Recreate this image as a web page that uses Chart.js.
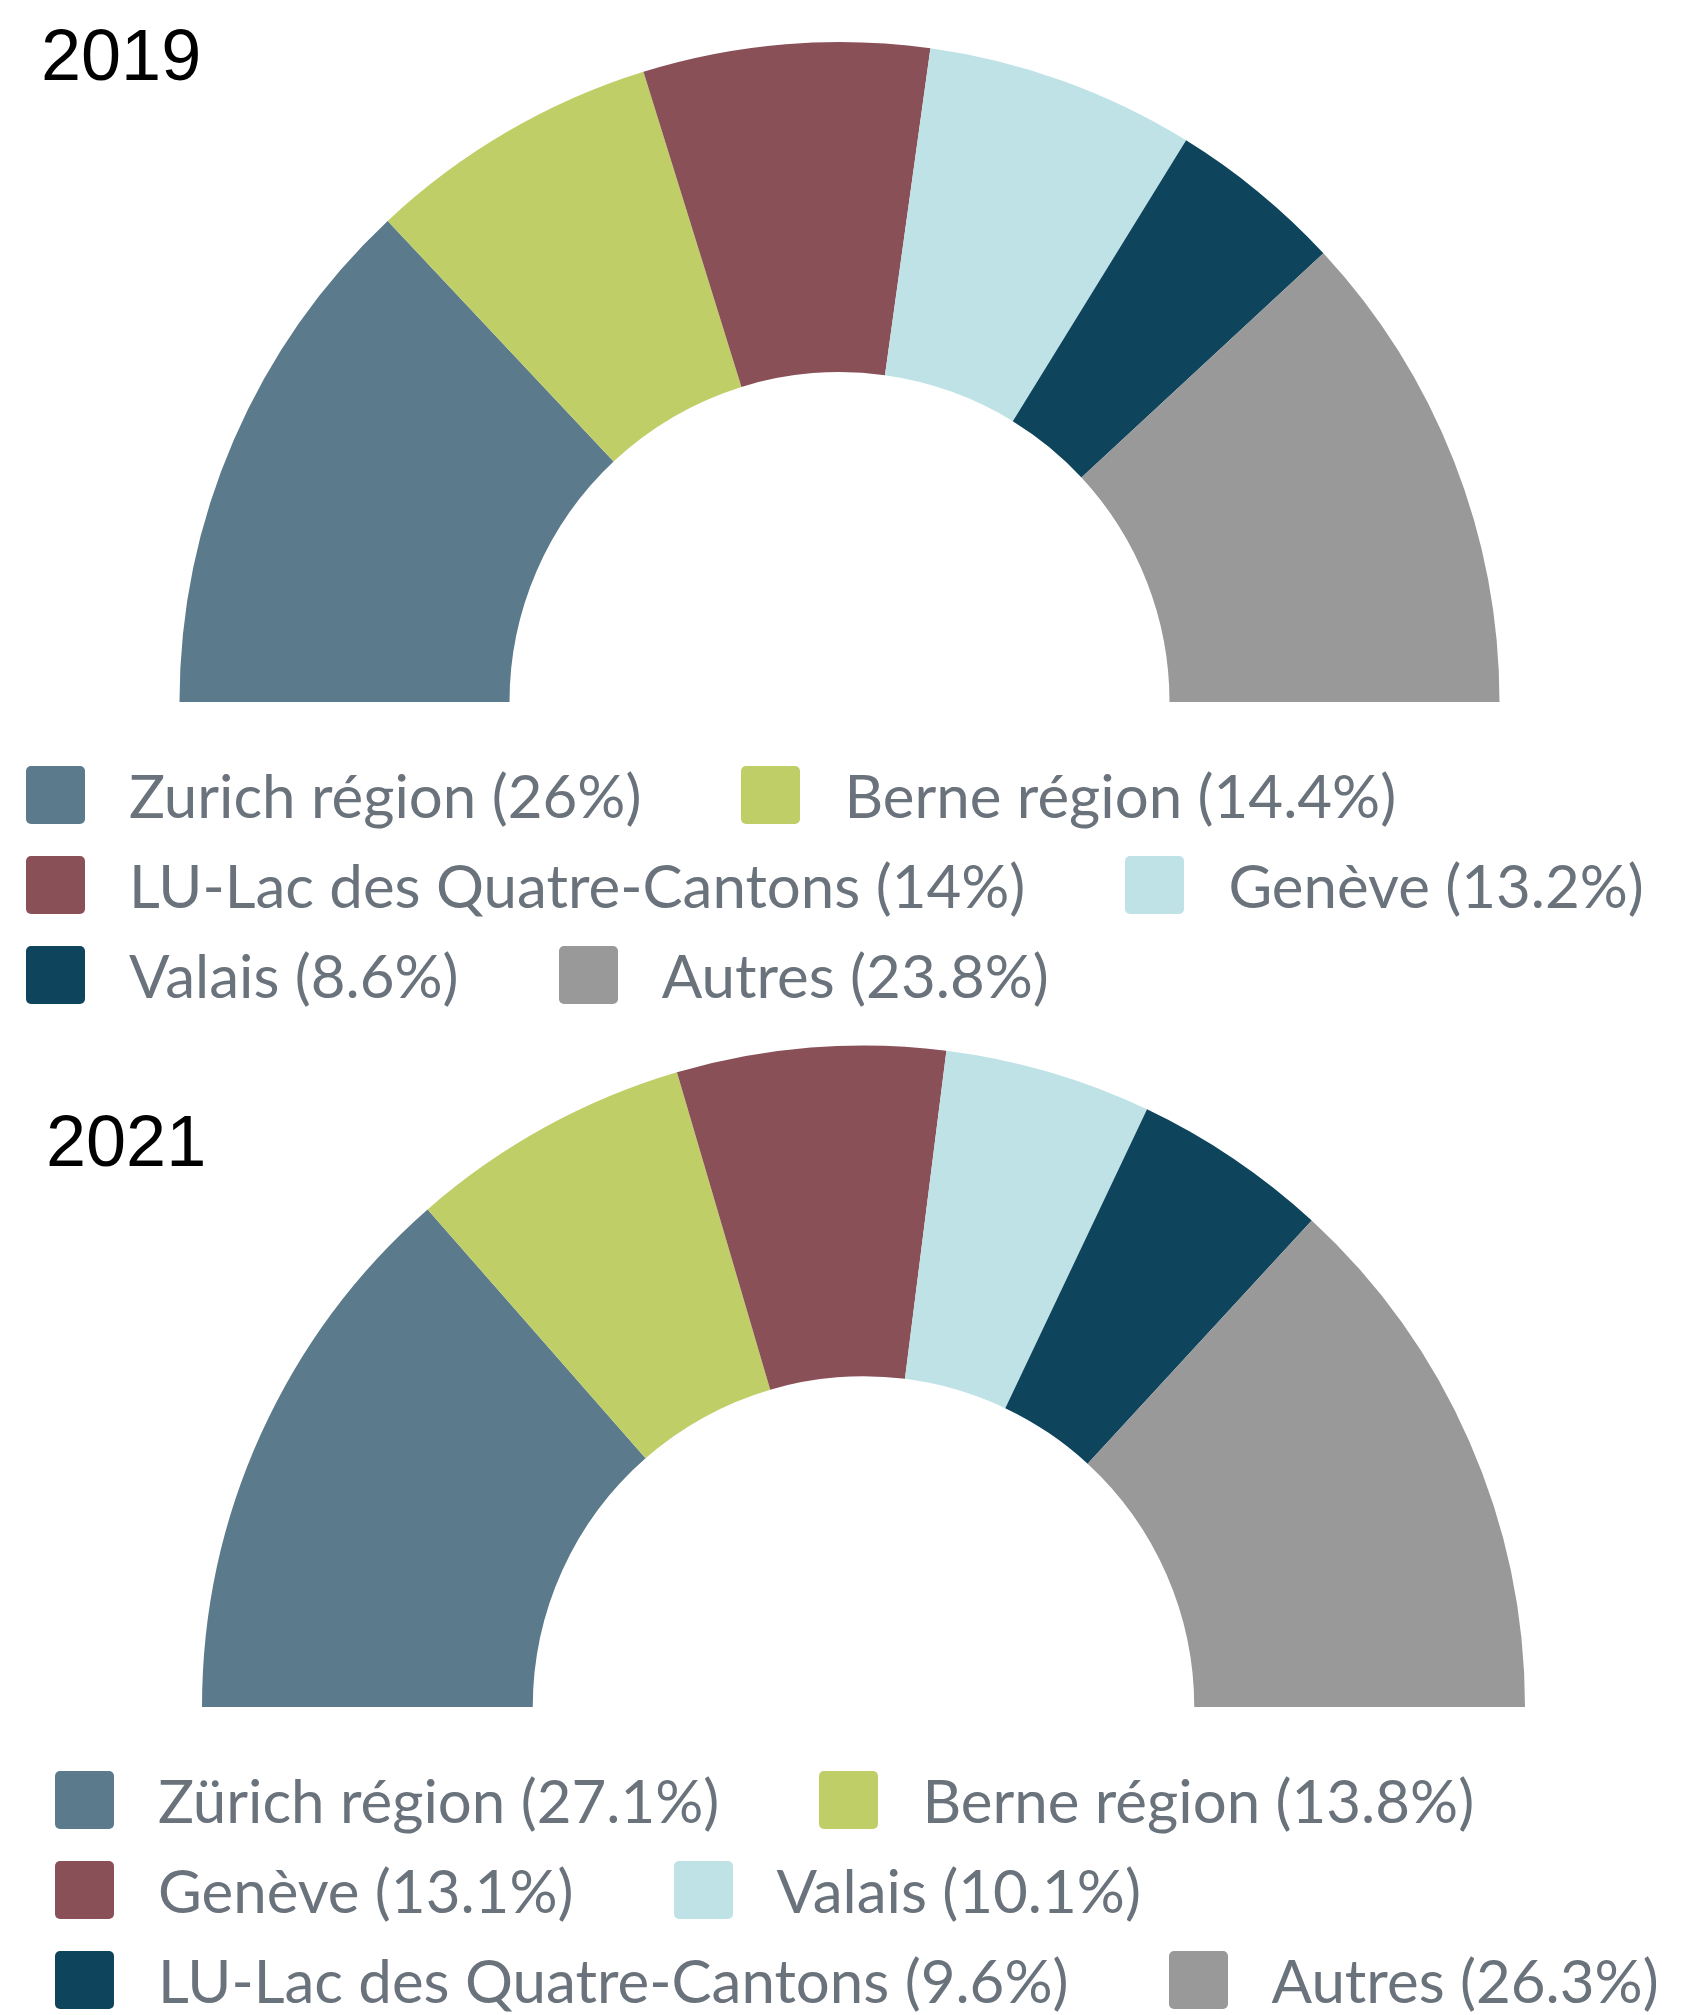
<!DOCTYPE html>
<html lang="fr">
<head>
  <meta charset="UTF-8" />
  <title>Répartition par région 2019 / 2021</title>
  <script src="https://cdn.jsdelivr.net/npm/chart.js"></script>
  <style>
    body { margin: 0; background: #fff; }
    #page { position: relative; width: 1697px; height: 2015px; overflow: hidden; }
    .year { position: absolute; font-family: "Liberation Sans", Arial, sans-serif; font-size: 72px; line-height: 72px; color: #000; }
    canvas { position: absolute; left: 0; }
    .legend { position: absolute; display: flex; flex-wrap: wrap; column-gap: 100px; row-gap: 0; font-family: Lato, sans-serif; font-size: 60px; color: #6a737c; }
    .legend .item { display: flex; align-items: center; height: 90px; white-space: nowrap; }
    .legend .box { width: 59px; height: 58px; border-radius: 5px; margin-right: 44px; flex: none; }
  </style>
</head>
<body>
<div id="page">
  <div class="year" style="left:41px; top:19px;">2019</div>
  <canvas id="chart2019" width="1697" height="703" style="top:0;"></canvas>
  <div class="legend" id="legend2019" style="left:26px; top:750px; width:1671px;"></div>

  <div class="year" style="left:46px; top:1105px;">2021</div>
  <canvas id="chart2021" width="1697" height="700" style="top:1010px;"></canvas>
  <div class="legend" id="legend2021" style="left:55px; top:1755px; width:1642px;"></div>
</div>

<script>
  // colours in slice order (same for both years)
  const colors = ['#5b7a8b', '#bfce67', '#8a5058', '#bfe2e6', '#0e455d', '#999999'];

  // 2019
  const labels2019 = ['Zurich région', 'Berne région', 'LU-Lac des Quatre-Cantons', 'Genève', 'Valais', 'Autres'];
  const values2019 = [26, 14.4, 14, 13.2, 8.6, 23.8];

  // 2021
  const labels2021 = ['Zürich région', 'Berne région', 'Genève', 'Valais', 'LU-Lac des Quatre-Cantons', 'Autres'];
  const values2021 = [27.1, 13.8, 13.1, 10.1, 9.6, 26.3];

  function halfDoughnut(id, labels, values, pad) {
    new Chart(document.getElementById(id), {
      type: 'doughnut',
      data: {
        labels: labels,
        datasets: [{
          data: values,
          backgroundColor: colors,
          borderWidth: 0
        }]
      },
      options: {
        responsive: false,
        animation: false,
        rotation: -90,
        circumference: 180,
        cutout: '50%',
        layout: { padding: pad },
        plugins: {
          legend: { display: false },
          tooltip: { enabled: false }
        }
      }
    });
  }

  function buildLegend(id, labels, values) {
    const el = document.getElementById(id);
    labels.forEach((name, i) => {
      const item = document.createElement('div');
      item.className = 'item';
      const box = document.createElement('span');
      box.className = 'box';
      box.style.background = colors[i];
      const txt = document.createElement('span');
      txt.textContent = name + ' (' + values[i] + '%)';
      item.appendChild(box);
      item.appendChild(txt);
      el.appendChild(item);
    });
  }

  halfDoughnut('chart2019', labels2019, values2019, { left: 179.5, right: 197.5, top: 42, bottom: 1 });
  halfDoughnut('chart2021', labels2021, values2021, { left: 202, right: 172, top: 35.5, bottom: 3 });

  buildLegend('legend2019', labels2019, values2019);
  buildLegend('legend2021', labels2021, values2021);
</script>
</body>
</html>
